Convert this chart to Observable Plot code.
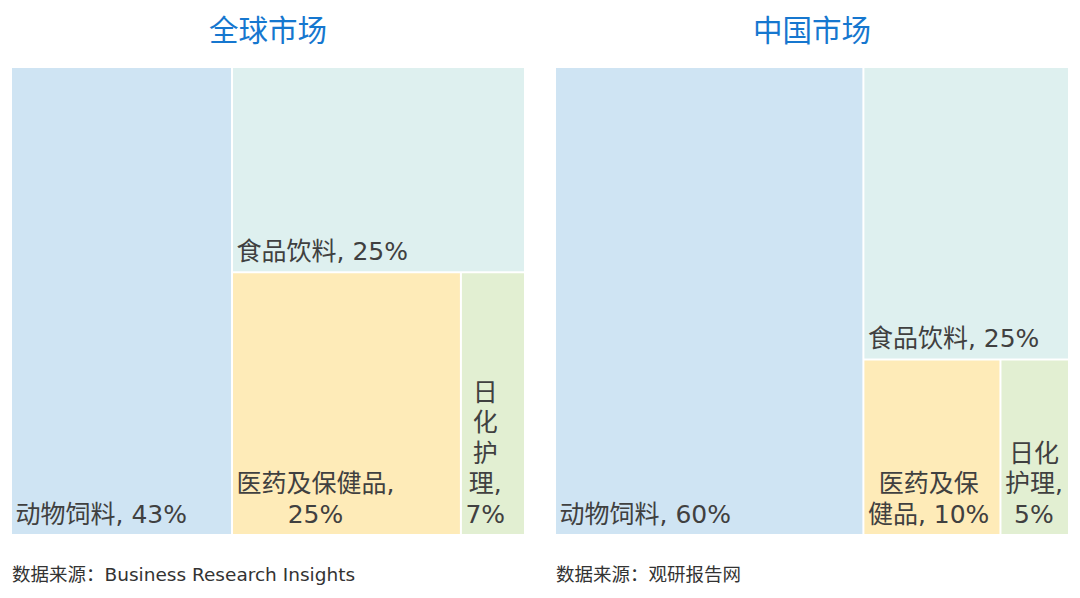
<!DOCTYPE html>
<html>
<head>
<meta charset="utf-8">
<script src="https://cdn.jsdelivr.net/npm/d3@7"></script>
<script src="https://cdn.jsdelivr.net/npm/@observablehq/plot@0.6"></script>
<style>
  body { margin: 0; background: #fff; font-family: "DejaVu Sans", "Noto Sans CJK SC", sans-serif; }
  .row { display: flex; width: 1080px; }
  .panel { width: 540px; }
  .title { height: 68px; line-height: 56px; text-align: center; color: #1677cf; font-size: 29.5px; box-sizing: border-box; font-family: "Noto Sans CJK SC", sans-serif; }
  .caption { margin-top: 28px; height: 26px; line-height: 26px; font-size: 18.5px; color: #333; box-sizing: border-box; }
</style>
</head>
<body>
<div class="row" id="row"></div>
<script>
// ---- data ----
const categories = ["动物饲料", "食品饮料", "医药及保健品", "日化护理"];
const colors = ["#cfe4f3", "#def0ef", "#feebb8", "#e2efd2"];

const globalTitle = "全球市场";
const globalValues = [43, 25, 25, 7];
const globalLabels = ["动物饲料, 43%", "食品饮料, 25%", "医药及保健品,\n25%", "日\n化\n护\n理,\n7%"];
const globalSource = "数据来源：Business Research Insights";

const chinaTitle = "中国市场";
const chinaValues = [60, 25, 10, 5];
const chinaLabels = ["动物饲料, 60%", "食品饮料, 25%", "医药及保\n健品, 10%", "日化\n护理,\n5%"];
const chinaSource = "数据来源：观研报告网";

// ---- layout: first item a full-height column, second a top band, rest split along the bottom ----
function layout(values) {
  const total = d3.sum(values);
  const w0 = values[0] / total;
  const rest = total - values[0];
  const h1 = values[1] / rest;
  const bottom = d3.sum(values.slice(2));
  const cells = [];
  cells.push({i: 0, x1: 0, x2: w0, y1: 0, y2: 1});
  cells.push({i: 1, x1: w0, x2: 1, y1: 0, y2: h1});
  let x = w0;
  for (let k = 2; k < values.length; k++) {
    const w = (1 - w0) * values[k] / bottom;
    cells.push({i: k, x1: x, x2: x + w, y1: h1, y2: 1});
    x += w;
  }
  return cells;
}

const labelFamily = '"DejaVu Sans", "Noto Sans CJK SC"';
const labelSize = 25;
const ctx = document.createElement("canvas").getContext("2d");
ctx.font = labelSize + "px " + labelFamily;
function blockWidth(s) { return d3.max(s.split("\n"), l => ctx.measureText(l).width); }

function panel(title, values, labels, source, mL, mR) {
  const width = 540, height = 466;
  const innerW = width - mL - mR;
  const pad = 4;
  const cells = layout(values).map(c => {
    const label = labels[c.i];
    const bw = blockWidth(label);
    return {...c, cat: categories[c.i], label, lx: c.x1 + (pad + bw / 2) / innerW};
  });
  const chart = Plot.plot({
    width, height,
    marginLeft: mL, marginRight: mR, marginTop: -1, marginBottom: -1,
    x: {domain: [0, 1], axis: null},
    y: {domain: [0, 1], reverse: true, axis: null},
    color: {domain: categories, range: colors},
    marks: [
      Plot.rect(cells, {x1: "x1", x2: "x2", y1: "y1", y2: "y2", fill: "cat", inset: 1}),
      Plot.text(cells, {x: "lx", y: "y2", text: "label", textAnchor: "middle", lineAnchor: "bottom",
        lineHeight: 1.22, dy: -13, fontSize: labelSize, fill: "#404040", fontFamily: labelFamily})
    ]
  });
  const div = document.createElement("div");
  div.className = "panel";
  const t = document.createElement("div");
  t.className = "title";
  t.style.paddingLeft = mL + "px";
  t.style.paddingRight = mR + "px";
  t.textContent = title;
  div.appendChild(t);
  div.appendChild(chart);
  const cap = document.createElement("div");
  cap.className = "caption";
  cap.style.paddingLeft = (mL + 1) + "px";
  cap.textContent = source;
  div.appendChild(cap);
  return div;
}

const row = document.getElementById("row");
row.appendChild(panel(globalTitle, globalValues, globalLabels, globalSource, 11, 15));
row.appendChild(panel(chinaTitle, chinaValues, chinaLabels, chinaSource, 15, 11));
</script>
</body>
</html>
